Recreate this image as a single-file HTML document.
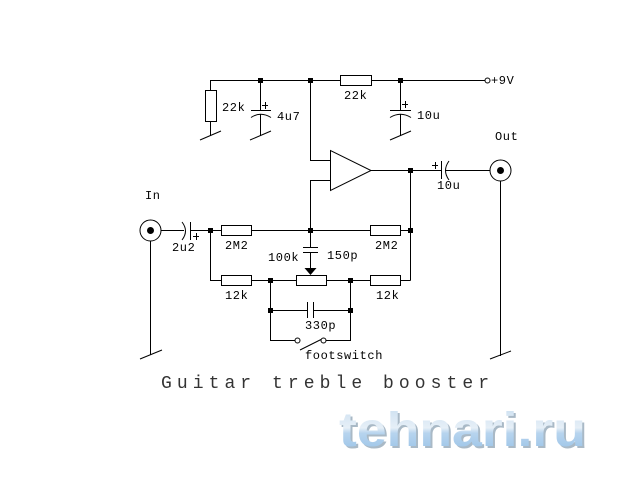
<!DOCTYPE html>
<html><head><meta charset="utf-8"><style>
html,body{margin:0;padding:0;background:#fff;}
svg{display:block;}
.l{font-family:"Liberation Mono",monospace;font-size:12px;letter-spacing:0.6px;fill:#000;}
</style></head><body>
<svg width="640" height="480" viewBox="0 0 640 480" xmlns="http://www.w3.org/2000/svg">
<defs>
<linearGradient id="wg" x1="0" y1="0" x2="0" y2="1">
<stop offset="0" stop-color="#c9def0"/>
<stop offset="0.45" stop-color="#e6eff7"/>
<stop offset="0.55" stop-color="#b7d4ee"/>
<stop offset="1" stop-color="#93bfe6"/>
</linearGradient>
</defs>
<rect width="640" height="480" fill="#fff"/>
<g stroke="#000" stroke-width="1" fill="none" shape-rendering="crispEdges">
<path d="M210.5 80.5H485"/>
<path d="M210.5 80V90M210.5 121V136"/>
<rect x="205.5" y="90.5" width="11" height="31" fill="#fff"/>
<path d="M260.5 80V110.5M251 110.5H271M260.5 114V136"/>
<rect x="340.5" y="75.5" width="31" height="10" fill="#fff"/>
<path d="M400.5 80V110.5M390 110.5H411M400.5 114V136"/>
<path d="M310.5 80V160.5H330"/>
<path d="M310.5 247.5V180.5H330"/>
<path d="M371 170.5H441.5M446 170.5H490"/>
<path d="M441.5 161V179"/>
<path d="M500.5 181V356"/>
<path d="M161 230.5H184M190.5 222V240M190 230.5H410.5"/>
<path d="M150.5 241V355"/>
<path d="M410.5 170V280.5"/>
<path d="M210.5 230V280.5H410.5"/>
<path d="M303 247.5H318M303 252.5H318M310.5 252V268"/>
<path d="M270.5 280V340.5H295M350.5 280V340.5H326M270.5 310.5H307.5M307.5 302V318M313.5 302V318M313.5 310.5H350.5"/>
<rect x="221.5" y="225.5" width="30" height="10" fill="#fff"/>
<rect x="370.5" y="225.5" width="30" height="10" fill="#fff"/>
<rect x="221.5" y="275.5" width="30" height="10" fill="#fff"/>
<rect x="296.5" y="275.5" width="30" height="10" fill="#fff"/>
<rect x="370.5" y="275.5" width="30" height="10" fill="#fff"/>
<path d="M333 160.5H340M336.5 157V164M333 180.5H340"/>
<path d="M262 105.5H268M265.5 102V109"/>
<path d="M402 104.5H408M405.5 101V108"/>
<path d="M432 165.5H438M435.5 162V169"/>
<path d="M193 236.5H199M196.5 233V240"/>
</g>
<g stroke="#000" stroke-width="1" fill="none">
<path d="M251 117.5Q260.5 111 271 117.5"/>
<path d="M390 117.5Q400.5 111 411 117.5"/>
<path d="M449 161Q442 170.5 449 180"/>
<path d="M182 222Q189 231 182 240"/>
<path d="M330.5 150.5L330.5 190.5L371 170.5Z" fill="#fff"/>
<path d="M200 140L221 131M250 140L271 131M390 140L411 131M490 359L511 351M140 359L162 350"/>
<path d="M300 350L322 339"/>
<circle cx="150.5" cy="230.5" r="10.5" fill="#fff"/>
<circle cx="500.5" cy="170.5" r="10.5" fill="#fff"/>
<circle cx="487.5" cy="80.5" r="2.5" fill="#fff"/>
<circle cx="297.5" cy="340.5" r="2.5" fill="#fff"/>
<circle cx="323.5" cy="340.5" r="2.5" fill="#fff"/>
</g>
<g fill="#000">
<circle cx="150.5" cy="230.5" r="3.5"/>
<circle cx="500.5" cy="170.5" r="3.5"/>
<path d="M304.5 268L316.5 268L310.5 275Z"/>
<g shape-rendering="crispEdges">
<rect x="258" y="78" width="5" height="5"/>
<rect x="308" y="78" width="5" height="5"/>
<rect x="398" y="78" width="5" height="5"/>
<rect x="408" y="168" width="5" height="5"/>
<rect x="208" y="228" width="5" height="5"/>
<rect x="308" y="228" width="5" height="5"/>
<rect x="408" y="228" width="5" height="5"/>
<rect x="268" y="278" width="5" height="5"/>
<rect x="348" y="278" width="5" height="5"/>
<rect x="268" y="308" width="5" height="5"/>
<rect x="348" y="308" width="5" height="5"/>
</g>
</g>
<text class="l" x="222" y="111">22k</text>
<text class="l" x="277" y="120">4u7</text>
<text class="l" x="344" y="99">22k</text>
<text class="l" x="417" y="119">10u</text>
<text class="l" x="491" y="84">+9V</text>
<text class="l" x="495" y="140">Out</text>
<text class="l" x="437" y="189">10u</text>
<text class="l" x="145" y="199">In</text>
<text class="l" x="172" y="251">2u2</text>
<text class="l" x="225" y="249">2M2</text>
<text class="l" x="375" y="249">2M2</text>
<text class="l" x="268" y="261">100k</text>
<text class="l" x="327" y="259">150p</text>
<text class="l" x="225" y="299">12k</text>
<text class="l" x="376" y="299">12k</text>
<text class="l" x="305" y="329">330p</text>
<text class="l" x="305" y="359">footswitch</text>
<text x="161" y="388" font-family="'Liberation Mono', monospace" font-size="18" fill="#333" textLength="328" lengthAdjust="spacing">Guitar treble booster</text>
<text x="341" y="448" font-family="'Liberation Sans', sans-serif" font-weight="bold" font-size="48" fill="#a9b9c6" textLength="247" lengthAdjust="spacingAndGlyphs">tehnari.ru</text>
<text x="339" y="446" font-family="'Liberation Sans', sans-serif" font-weight="bold" font-size="48" fill="url(#wg)" textLength="247" lengthAdjust="spacingAndGlyphs">tehnari.ru</text>
</svg>
</body></html>
